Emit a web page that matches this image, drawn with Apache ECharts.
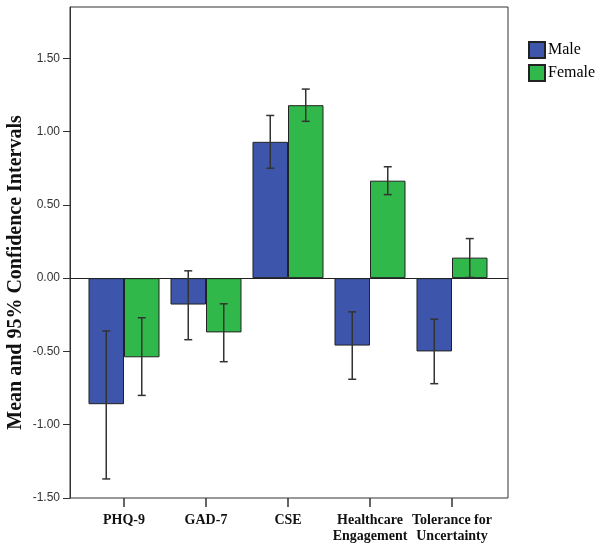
<!DOCTYPE html>
<html>
<head>
<meta charset="utf-8">
<script src="https://cdn.jsdelivr.net/npm/echarts@6/dist/echarts.min.js"></script>
<style>html,body{margin:0;padding:0;background:#fff}#c{width:604px;height:549px}</style>
</head>
<body>
<div id="c"></div>
<script>
var categories = ['PHQ-9', 'GAD-7', 'CSE', 'Healthcare\nEngagement', 'Tolerance for\nUncertainty'];
var maleMean = [-0.86, -0.18, 0.93, -0.46, -0.50];
var maleLow = [-1.37, -0.42, 0.75, -0.69, -0.72];
var maleHigh = [-0.36, 0.05, 1.11, -0.23, -0.28];
var femaleMean = [-0.54, -0.37, 1.18, 0.665, 0.14];
var femaleLow = [-0.80, -0.57, 1.07, 0.57, 0.005];
var femaleHigh = [-0.27, -0.175, 1.29, 0.76, 0.27];
var yTicks = [-1.5, -1.0, -0.5, 0, 0.5, 1.0, 1.5];

var Y_MIN = -1.5, Y_MAX = 1.85;
var GAP = 0.134;
var serif = '"Liberation Serif", "DejaVu Serif", serif';
var sans = '"Liberation Sans", Arial, sans-serif';

function ciData(lo, hi) {
  return lo.map(function (v, i) { return [i, v, hi[i]]; });
}
function errRender(side) {
  return function (params, api) {
    var ci = api.value(0);
    var lo = api.value(1), hi = api.value(2);
    var band = api.size([1, 0])[0];
    var bw = band * (1 - GAP) / 2;
    var off = side * bw / 2;
    var p1 = api.coord([ci, lo]);
    var p2 = api.coord([ci, hi]);
    var x = p1[0] + off;
    var cap = 4;
    var st = { stroke: '#333', lineWidth: 1.5 };
    return {
      type: 'group',
      children: [
        { type: 'line', shape: { x1: x, y1: p1[1], x2: x, y2: p2[1] }, style: st },
        { type: 'line', shape: { x1: x - cap, y1: p1[1], x2: x + cap, y2: p1[1] }, style: st },
        { type: 'line', shape: { x1: x - cap, y1: p2[1], x2: x + cap, y2: p2[1] }, style: st }
      ]
    };
  };
}

var chart = echarts.init(document.getElementById('c'));
chart.setOption({
  animation: false,
  backgroundColor: '#fff',
  grid: [
    { left: 70, right: 96, top: 7, bottom: 51, show: true, borderColor: '#333', borderWidth: 1, backgroundColor: 'transparent', containLabel: false, outerBoundsMode: 'none' },
    { left: 83, right: 111, top: 7, bottom: 51, containLabel: false, outerBoundsMode: 'none' }
  ],
  legend: {
    orient: 'vertical',
    left: 528, top: 41, padding: 0,
    icon: 'rect',
    itemWidth: 16, itemHeight: 16, itemGap: 5,
    textStyle: { fontFamily: serif, fontSize: 16, color: '#000', padding: [0, 0, 0, -2] },
    data: ['Male', 'Female']
  },
  xAxis: [
    { type: 'category', gridIndex: 0, data: [''], axisLine: { show: true, onZero: true, lineStyle: { color: '#222', width: 1 } }, axisTick: { show: false }, axisLabel: { show: false } },
    { type: 'category', gridIndex: 1, data: categories,
      axisLine: { show: false, onZero: false },
      axisTick: { show: true, alignWithLabel: true, length: 9, lineStyle: { color: '#333', width: 1.5 } },
      axisLabel: { fontFamily: serif, fontWeight: 'bold', fontSize: 14, color: '#111', margin: 14, lineHeight: 16, interval: 0 } }
  ],
  yAxis: [
    { type: 'value', gridIndex: 0, min: Y_MIN, max: Y_MAX, interval: 0.5,
      name: 'Mean and 95% Confidence Intervals', nameLocation: 'middle', nameGap: 44, nameMoveOverlap: false,
      nameTextStyle: { fontFamily: serif, fontWeight: 'bold', fontSize: 20, color: '#111', padding: [0, 40, 0, 0] },
      axisLine: { show: true, lineStyle: { color: '#333' } },
      axisTick: { show: true, inside: false, length: 7, lineStyle: { color: '#333' }, customValues: yTicks },
      axisLabel: { fontFamily: sans, fontSize: 12, color: '#333', margin: 10, customValues: yTicks, formatter: function (v) { return v.toFixed(2); } },
      splitLine: { show: false } },
    { type: 'value', gridIndex: 1, min: Y_MIN, max: Y_MAX, show: false, splitLine: { show: false } }
  ],
  series: [
    { name: 'Male', type: 'bar', xAxisIndex: 1, yAxisIndex: 1, data: maleMean, barGap: '0%', barCategoryGap: (GAP * 100) + '%',
      itemStyle: { color: '#3D56AC', borderColor: '#222', borderWidth: 1 } },
    { name: 'Female', type: 'bar', xAxisIndex: 1, yAxisIndex: 1, data: femaleMean, barGap: '0%', barCategoryGap: (GAP * 100) + '%',
      itemStyle: { color: '#30B84A', borderColor: '#222', borderWidth: 1 } },
    { name: 'MaleCI', type: 'custom', xAxisIndex: 1, yAxisIndex: 1, data: ciData(maleLow, maleHigh), renderItem: errRender(-1), encode: { x: 0, y: [1, 2] }, z: 5 },
    { name: 'FemaleCI', type: 'custom', xAxisIndex: 1, yAxisIndex: 1, data: ciData(femaleLow, femaleHigh), renderItem: errRender(1), encode: { x: 0, y: [1, 2] }, z: 5 }
  ]
});
</script>
</body>
</html>
